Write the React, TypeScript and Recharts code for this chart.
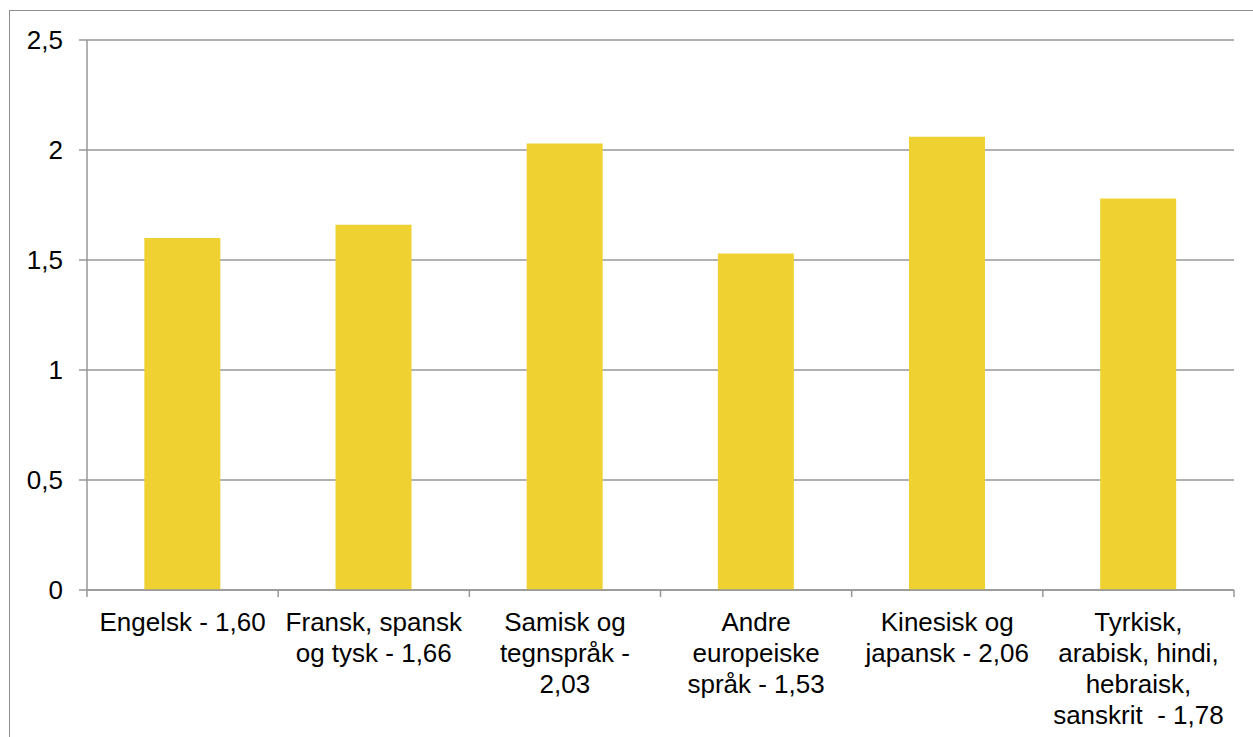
import { BarChart, Bar, XAxis, YAxis, CartesianGrid } from 'recharts'

const categories = [
  'Engelsk - 1,60',
  'Fransk, spansk\nog tysk - 1,66',
  'Samisk og\ntegnspråk -\n2,03',
  'Andre\neuropeiske\nspråk - 1,53',
  'Kinesisk og\njapansk - 2,06',
  'Tyrkisk,\narabisk, hindi,\nhebraisk,\nsanskrit  - 1,78',
]
const values = [1.6, 1.66, 2.03, 1.53, 2.06, 1.78]
const yTicks = [0, 0.5, 1, 1.5, 2, 2.5]

const data = categories.map((name, i) => ({ name, value: values[i] }))

const FONT = "'Liberation Sans', Arial, sans-serif"
const GRID = '#979797'
const BAR = '#EFD131'

function CategoryTick(props: any) {
  const { x, y, payload, index } = props
  const lines = String(payload.value).split('\n')
  const half = payload.offset || 95.6
  const last = index === categories.length - 1
  return (
    <g>
      <line x1={x - half} x2={x - half} y1={y} y2={y + 7} stroke={GRID} strokeWidth={1.5} />
      {last && <line x1={x + half} x2={x + half} y1={y} y2={y + 7} stroke={GRID} strokeWidth={1.5} />}
      <text
        x={x}
        y={y + 41}
        textAnchor="middle"
        fill="#000"
        fontSize={26}
        fontFamily={FONT}
      >
        {lines.map((l, i) => (
          <tspan key={i} x={x} dy={i === 0 ? 0 : 31} style={{ whiteSpace: 'pre' }}>
            {l}
          </tspan>
        ))}
      </text>
    </g>
  )
}

export default function App() {
  return (
    <div style={{ position: 'absolute', left: 0, top: 0, width: 1253, height: 737, overflow: 'hidden', background: '#fff' }}>
      <div
        style={{
          position: 'absolute',
          left: 9,
          top: 10,
          width: 1400,
          height: 900,
          border: '1.5px solid #8e8e8e',
        }}
      />
      <div style={{ position: 'absolute', left: 0, top: 0 }}>
        <BarChart
          width={1253}
          height={737}
          data={data}
          margin={{ top: 40, right: 19, left: 10, bottom: 0 }}
          barCategoryGap="30%"
        >
          <CartesianGrid vertical={false} stroke={GRID} strokeWidth={1.5} />
          <XAxis
            dataKey="name"
            interval={0}
            height={147}
            axisLine={{ stroke: GRID, strokeWidth: 1.5 }}
            tickLine={false}
            tickSize={0}
            tickMargin={0}
            tick={<CategoryTick />}
          />
          <YAxis
            width={77}
            domain={[0, 2.5]}
            ticks={yTicks}
            interval={0}
            axisLine={{ stroke: GRID, strokeWidth: 1.5 }}
            tickLine={{ stroke: GRID, strokeWidth: 1.5 }}
            tickSize={8}
            tickMargin={16}
            tickFormatter={(v: number) => String(v).replace('.', ',')}
            tick={{ fill: '#000', fontSize: 26, fontFamily: FONT }}
          />
          <Bar dataKey="value" fill={BAR} isAnimationActive={false} />
        </BarChart>
      </div>
    </div>
  )
}
